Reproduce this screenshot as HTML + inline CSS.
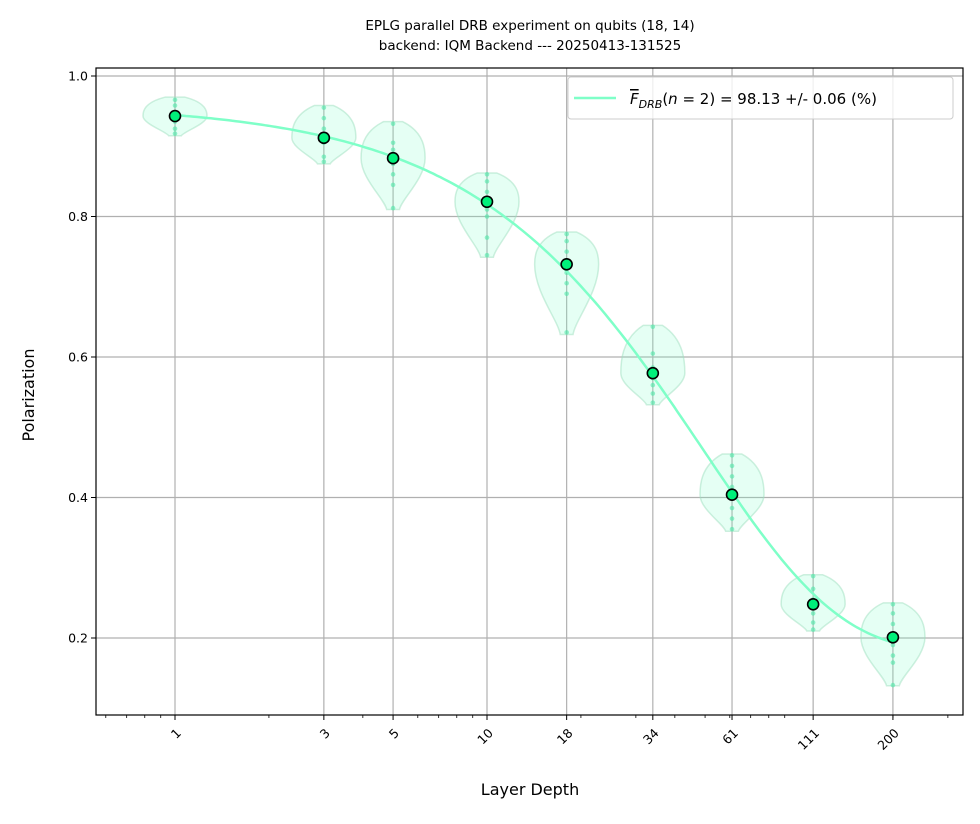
<!DOCTYPE html>
<html><head><meta charset="utf-8"><style>
body{margin:0;background:#fff;font-family:"Liberation Sans","DejaVu Sans",sans-serif}
</style></head><body>
<svg id="chart" width="980" height="819" xmlns="http://www.w3.org/2000/svg" font-family="'DejaVu Sans','Liberation Sans',sans-serif">
<rect width="980" height="819" fill="#fff"/>
<text x="530" y="30" font-size="13.5" text-anchor="middle">EPLG parallel DRB experiment on qubits (18, 14)</text>
<text x="530" y="50" font-size="13.5" text-anchor="middle">backend: IQM Backend --- 20250413-131525</text>
<g id="grid"></g><g id="violins"></g><g id="fit"></g><g id="points"></g><g id="axes"></g>
<text x="530" y="795" font-size="16" text-anchor="middle">Layer Depth</text>
<text x="34" y="395" font-size="16" text-anchor="middle" transform="rotate(-90 34 395)">Polarization</text>
<g>
<rect x="568" y="77" width="385" height="42" rx="3" fill="#fff" fill-opacity="0.8" stroke="#ccc"/>
<line x1="574" y1="98" x2="616" y2="98" stroke="#7fffc8" stroke-width="2.5"/>
<text x="630" y="104" font-size="15"><tspan font-style="italic" text-decoration="overline">F</tspan><tspan font-style="italic" font-size="11" dy="4">DRB</tspan><tspan dy="-4">(</tspan><tspan font-style="italic">n</tspan> = 2) = 98.13 +/- 0.06 (%)</text>
</g>
</svg>
<script>
const depths=[1,3,5,10,18,34,61,111,200];
const means=[0.943,0.912,0.883,0.821,0.732,0.577,0.404,0.248,0.201];
const vmax=[0.97,0.958,0.935,0.862,0.778,0.645,0.462,0.29,0.25];
const vmin=[0.915,0.875,0.81,0.742,0.632,0.532,0.352,0.21,0.132];
const samples=[[0.966,0.958,0.945,0.935,0.925,0.918],[0.955,0.94,0.925,0.905,0.885,0.878],[0.932,0.905,0.895,0.875,0.86,0.845,0.812],[0.86,0.85,0.835,0.825,0.81,0.8,0.77,0.745],[0.775,0.765,0.75,0.735,0.72,0.705,0.69,0.635],[0.643,0.605,0.585,0.57,0.56,0.548,0.535],[0.46,0.445,0.43,0.415,0.4,0.385,0.37,0.355],[0.288,0.27,0.255,0.245,0.235,0.222,0.212],[0.248,0.235,0.22,0.205,0.19,0.175,0.165,0.133]];
const fitA=0.78, fitF=0.98, fitB=0.18;
const yTicks=[0.2,0.4,0.6,0.8,1.0];
const xTickLabels=["1","3","5","10","18","34","61","111","200"];
const NS="http://www.w3.org/2000/svg";
const L=96,R=963,T=68,B=715;
const X=v=>175+312*Math.log10(v);
const Y=v=>638-(v-0.2)*702.5;
function mk(tag,attrs,parent){const e=document.createElementNS(NS,tag);for(const k in attrs)e.setAttribute(k,attrs[k]);document.getElementById(parent).appendChild(e);return e;}
depths.forEach(d=>{const g=mk('line',{x1:X(d),x2:X(d),y1:T,y2:B,stroke:'#b0b0b0','stroke-width':1.2},'grid');

});
yTicks.forEach(v=>{const g=mk('line',{x1:L,x2:R,y1:Y(v),y2:Y(v),stroke:'#b0b0b0','stroke-width':1.2},'grid');

});
depths.forEach((d,i)=>{
 const cx=X(d),yt=Y(vmax[i]),yb=Y(vmin[i]),ym=Y(means[i]),hw=32;
 const wt=hw*0.3,wb=hw*0.2;
 const p=`M${cx-wt},${yt} L${cx+wt},${yt} C${cx+hw},${yt+(ym-yt)*0.3} ${cx+hw},${ym-(ym-yt)*0.2} ${cx+hw},${ym} C${cx+hw},${ym+(yb-ym)*0.4} ${cx+wb*1.3},${yb-(yb-ym)*0.2} ${cx+wb},${yb} L${cx-wb},${yb} C${cx-wb*1.3},${yb-(yb-ym)*0.2} ${cx-hw},${ym+(yb-ym)*0.4} ${cx-hw},${ym} C${cx-hw},${ym-(ym-yt)*0.2} ${cx-hw},${yt+(ym-yt)*0.3} ${cx-wt},${yt} Z`;
 const v=mk('path',{d:p,fill:'#7fffc8','fill-opacity':0.2,stroke:'#9fe0bf','stroke-opacity':0.5,'stroke-width':1.5},'violins');
 
 
 samples[i].forEach(s=>{const c=mk('circle',{cx:cx,cy:Y(s),r:2.3,fill:'#4fe8a8','fill-opacity':0.6},'violins');
 
 });
});
let pts=[];for(let k=0;k<=200;k++){const m=Math.pow(10,k/200*Math.log10(200));pts.push(X(m).toFixed(1)+','+Y(fitA*Math.pow(fitF,m)+fitB).toFixed(1));}
const f=mk('polyline',{points:pts.join(' '),fill:'none',stroke:'#7fffc8','stroke-width':2.5},'fit');


depths.forEach((d,i)=>{const c=mk('circle',{cx:X(d),cy:Y(means[i]),r:5.5,fill:'#00f07a',stroke:'#000','stroke-width':1.6},'points');

});
const fr=mk('rect',{x:L,y:T,width:R-L,height:B-T,fill:'none',stroke:'#000','stroke-width':1.2},'axes');


yTicks.forEach(v=>{mk('line',{x1:L-5,x2:L,y1:Y(v),y2:Y(v),stroke:'#000'},'axes');
 const t=mk('text',{x:L-8,y:Y(v)+4.5,'font-size':12.5,'text-anchor':'end'},'axes');t.textContent=v.toFixed(1);
 
 });
depths.forEach((d,i)=>{mk('line',{x1:X(d),x2:X(d),y1:B,y2:B+5,stroke:'#000'},'axes');
 const x=X(d),y=B+16;const t=mk('text',{x:x+4,y:y+4,'font-size':12.5,'text-anchor':'end',transform:`rotate(-45 ${x+4} ${y})`},'axes');
 t.textContent=xTickLabels[i];
 
 });
[0.6,0.7,0.8,0.9,2,4,6,7,8,9,20,30,40,50,60,70,80,90,200,300].forEach(m=>{const x=X(m);if(x>L&&x<R)mk('line',{x1:x,x2:x,y1:B,y2:B+3,stroke:'#000','stroke-width':0.8},'axes');});
</script>
</body></html>
